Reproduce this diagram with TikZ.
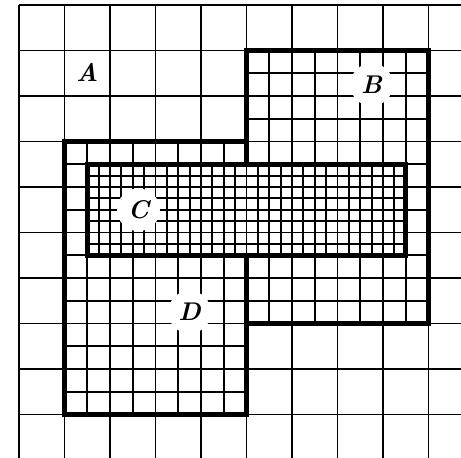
\documentclass[tikz,border=0pt]{standalone}
\begin{document}
\begin{tikzpicture}[x=1cm,y=-1cm,
  thin grid/.style={line width=1.15pt,black},
  region/.style={line width=3.1pt,black,line cap=rect},
  halo/.style={fill=white,draw=none,circle,minimum size=0.94cm,inner sep=0pt},
  lbl/.style={font=\fontsize{16}{18}\selectfont\bfseries\itshape,inner sep=0pt}]
\useasboundingbox (-0.418,-0.11) rectangle (9.714,9.956);
\begin{scope}
\clip (-0.418,-0.11) rectangle (9.714,9.956);
% coarse grid A
\foreach \i in {0,...,10} {
  \draw[thin grid] (\i,0) -- (\i,10.5);
  \draw[thin grid] (0,\i) -- (10.5,\i);
}
% B half grid
\foreach \i in {5.5,6,...,8.5} \draw[thin grid] (\i,1) -- (\i,7);
\foreach \j in {1.5,2,...,6.5} \draw[thin grid] (5,\j) -- (9,\j);
% D half grid
\foreach \i in {1.5,2,...,4.5} \draw[thin grid] (\i,3) -- (\i,9);
\foreach \j in {3.5,4,...,8.5} \draw[thin grid] (1,\j) -- (5,\j);
% B and D borders
\draw[region] (5,1) rectangle (9,7);
\draw[region] (1,3) rectangle (5,9);
% C quarter grid
\fill[white] (1.5,3.5) rectangle (8.5,5.5);
\foreach \i in {1.75,2,...,8.25} \draw[thin grid] (\i,3.5) -- (\i,5.5);
\foreach \j in {3.75,4,...,5.25} \draw[thin grid] (1.5,\j) -- (8.5,\j);
\draw[region] (1.5,3.5) rectangle (8.5,5.5);
\end{scope}
% labels
\node[halo] (hB) at (7.75,1.75) {};
\node[halo] (hC) at (2.625,4.5) {};
\node[halo] (hD) at (3.75,6.75) {};
\node[lbl] (A) at (1.5,1.48) {A};
\node[lbl] (B) at (hB) {B};
\node[lbl] (C) at (hC) {C};
\node[lbl] (D) at (hD) {D};
\end{tikzpicture}
\end{document}
